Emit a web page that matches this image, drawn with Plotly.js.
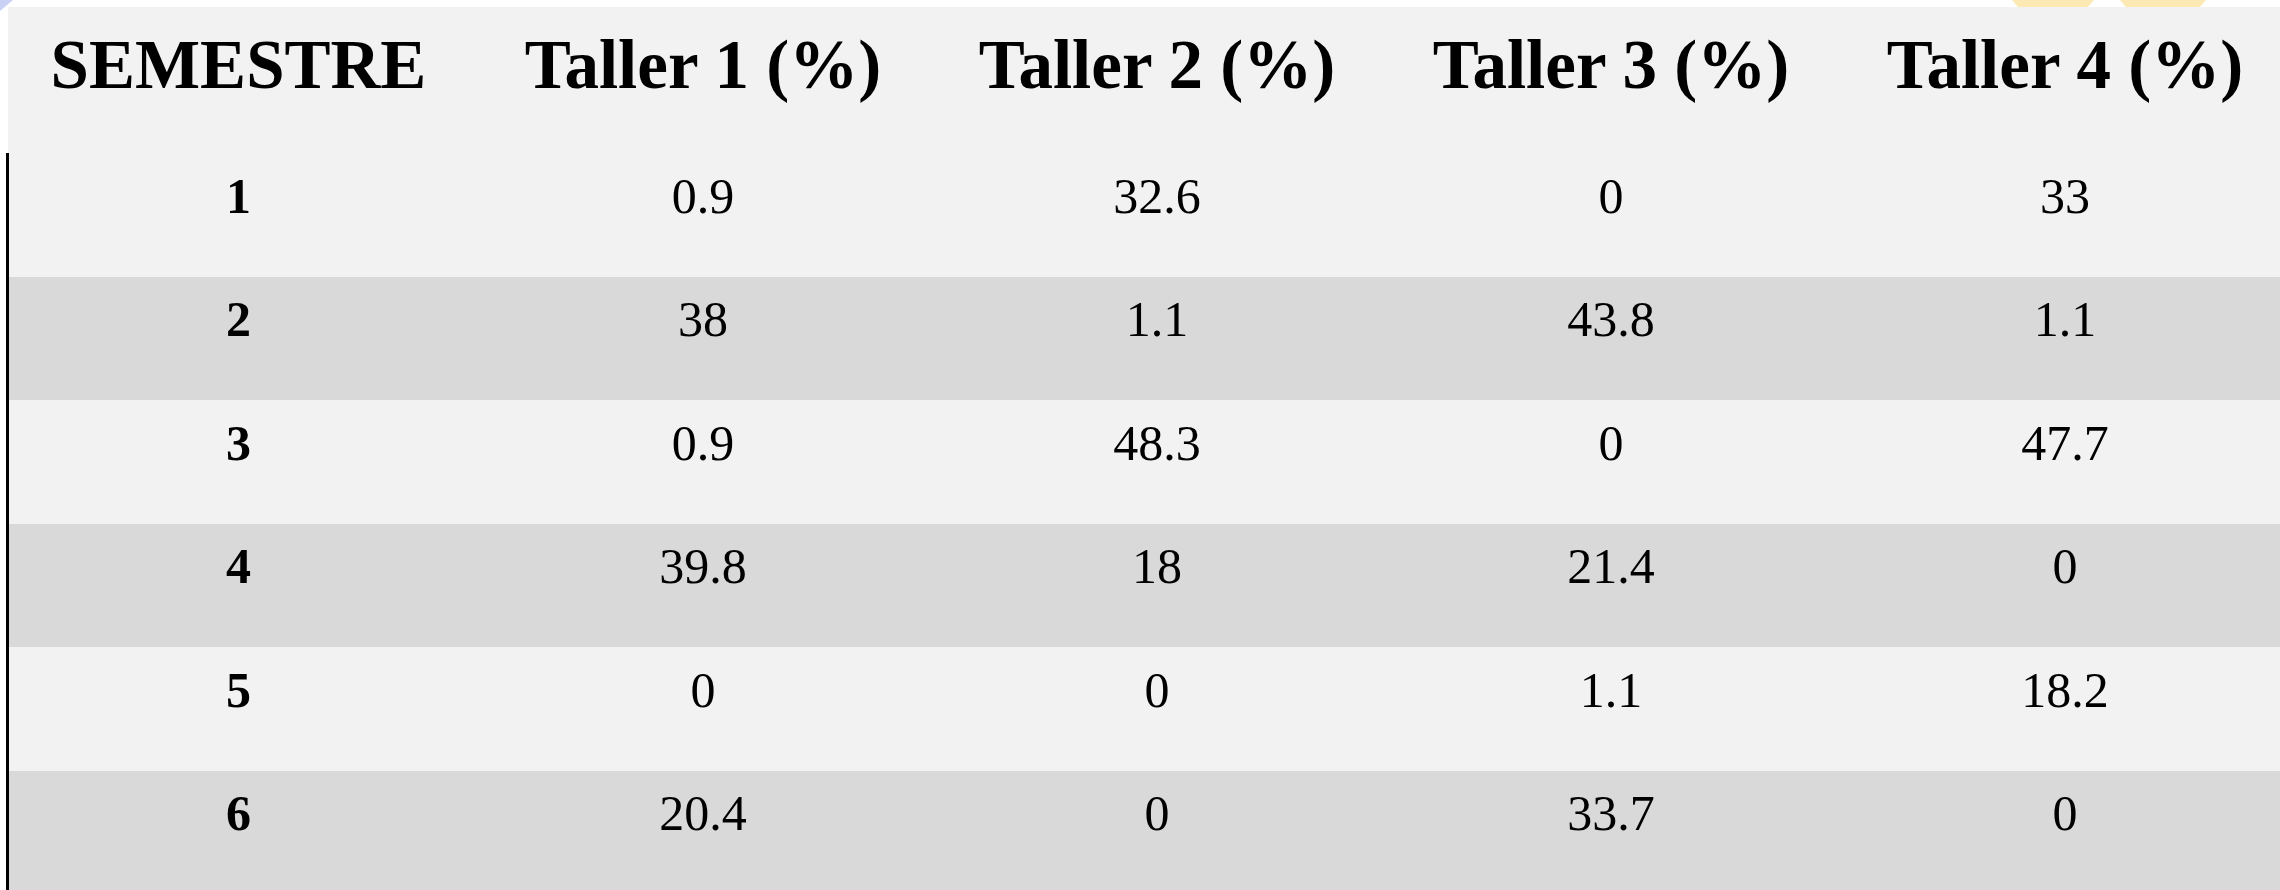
<!DOCTYPE html>
<html>
<head>
<meta charset="utf-8">
<script src="https://cdn.plot.ly/plotly-3.0.1.min.js"></script>
<style>
html,body{margin:0;padding:0;background:#ffffff;overflow:hidden;width:2280px;height:890px;}
#chart{position:absolute;left:0;top:0;width:2300px;height:900px;}
</style>
</head>
<body>
<div id="chart"></div>
<script>
var headers = ["SEMESTRE", "Taller 1 (%)", "Taller 2 (%)", "Taller 3 (%)", "Taller 4 (%)"];
var semestres = ["1", "2", "3", "4", "5", "6"];
var taller1 = [0.9, 38, 0.9, 39.8, 0, 20.4];
var taller2 = [32.6, 1.1, 48.3, 18, 0, 0];
var taller3 = [0, 43.8, 0, 21.4, 1.1, 33.7];
var taller4 = [33, 1.1, 47.7, 0, 18.2, 0];

var W = 2300, H = 900;
var headerTop = 18.5;
var NB = "\u00a0";
var rowColors = semestres.map(function(s, i){ return i % 2 === 0 ? "#f2f2f2" : "#d9d9d9"; });
function wrap(v){ return NB + "<span style='font-size:50px'>" + v + "</span>" + NB + "<br>"; }
function wrapBold(v){ return NB + "<b><span style='font-size:50px'>" + v + "</span></b>" + NB + "<br>"; }

var trace = {
  type: "table",
  domain: {x: [1 / W, 2292 / W], y: [0, 1 - headerTop / H]},
  columnwidth: [475, 454, 454, 454, 454],
  header: {
    values: headers.map(function(h){ return "<b>" + h + "</b>"; }),
    align: "center",
    height: 153.5 - headerTop,
    fill: {color: "#f2f2f2"},
    line: {width: 1, color: "#f2f2f2"},
    font: {family: "Liberation Serif", size: 69, color: "#000000"}
  },
  cells: {
    values: [
      semestres.map(wrapBold),
      taller1.map(wrap),
      taller2.map(wrap),
      taller3.map(wrap),
      taller4.map(wrap)
    ],
    align: "center",
    height: 123.5,
    fill: {color: [rowColors, rowColors, rowColors, rowColors, rowColors]},
    line: {width: 1, color: [rowColors, rowColors, rowColors, rowColors, rowColors]},
    font: {family: "Liberation Serif", size: 57, color: "#000000"}
  }
};

var shapes = [
  {type: "rect", xref: "paper", yref: "paper", x0: 0, x1: 8 / W, y0: 0, y1: 1,
   fillcolor: "#ffffff", line: {width: 0}},
  {type: "rect", xref: "paper", yref: "paper", x0: 8 / W, x1: 2292 / W, y0: 1 - headerTop / H - 0.002, y1: 1 - 7 / H,
   fillcolor: "#f2f2f2", line: {width: 0}},
  {type: "line", xref: "paper", yref: "paper", x0: 7.5 / W, x1: 7.5 / W, y0: 1 - 153 / H, y1: 0,
   line: {color: "#000000", width: 3}},
  {type: "path", xref: "paper", yref: "paper",
   path: "M 0 1 L " + (13 / W) + " 1 L 0 " + (1 - 11 / H) + " Z",
   fillcolor: "#c9d1f5", line: {width: 0}},
  {type: "path", xref: "paper", yref: "paper",
   path: "M " + (2012 / W) + " 1 L " + (2094 / W) + " 1 L " + (2088 / W) + " " + (1 - 7 / H) + " L " + (2018 / W) + " " + (1 - 7 / H) + " Z",
   fillcolor: "#fde9b4", line: {width: 0}},
  {type: "path", xref: "paper", yref: "paper",
   path: "M " + (2120 / W) + " 1 L " + (2206 / W) + " 1 L " + (2200 / W) + " " + (1 - 7 / H) + " L " + (2126 / W) + " " + (1 - 7 / H) + " Z",
   fillcolor: "#fde9b4", line: {width: 0}}
];

var layout = {
  width: W, height: H,
  margin: {l: 0, r: 0, t: 0, b: 0, pad: 0},
  paper_bgcolor: "#ffffff",
  shapes: shapes,
  showlegend: false
};

Plotly.newPlot("chart", [trace], layout, {displayModeBar: false, staticPlot: true});
</script>
</body>
</html>
